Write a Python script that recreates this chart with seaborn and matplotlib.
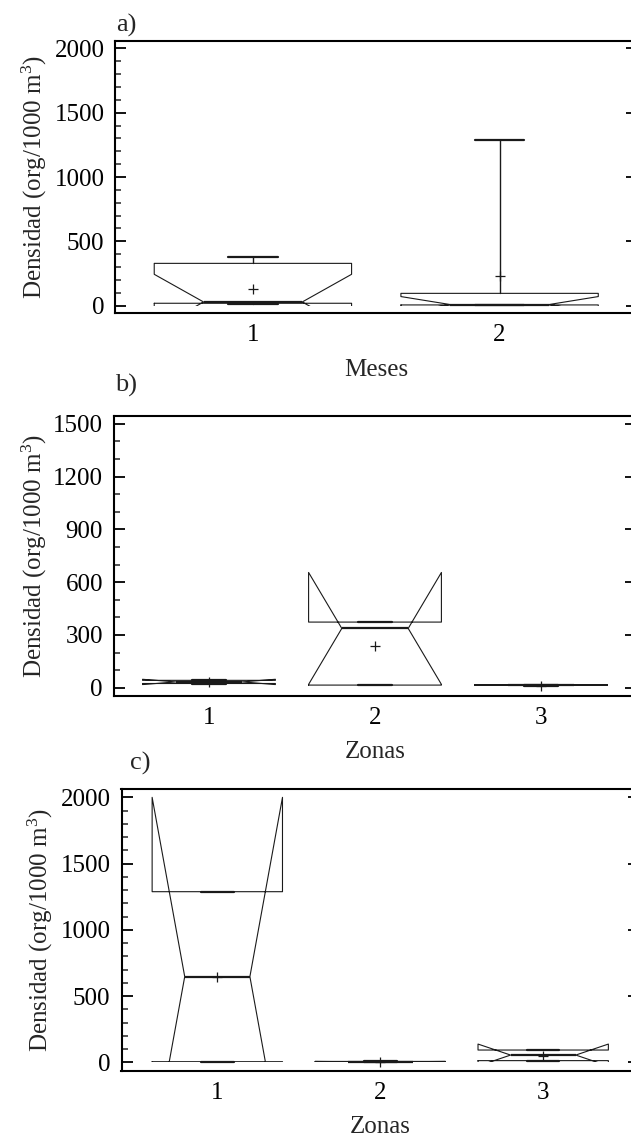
import matplotlib
matplotlib.use("Agg")
import matplotlib.pyplot as plt
import seaborn as sns
import numpy as np
from matplotlib.ticker import MultipleLocator, FixedLocator, FixedFormatter
from matplotlib.transforms import Bbox, TransformedBbox

# ---------------- data ----------------
meses = ["1", "2"]
zonas = ["1", "2", "3"]

# panel a) Meses
a_whislo = [15, 3]
a_q1 = [19, 6]
a_med = [29, 9]
a_q3 = [329, 96]
a_whishi = [376, 1290]
a_mean = [130, 233]
a_cilo = [-186, -53]
a_cihi = [244, 71]

# panel b) Zonas
b_whislo = [20, 15, 12]
b_q1 = [24, 15, 14]
b_med = [33, 337, 15]
b_q3 = [42, 373, 16]
b_whishi = [45, 375, 18]
b_mean = [30, 239, 12]
b_cilo = [18, 19, 13]
b_cihi = [48, 655, 17]

# panel c) Zonas
c_whislo = [5, 2, 13]
c_q1 = [5, 3, 13]
c_med = [647, 5, 55]
c_q3 = [1288, 7, 93]
c_whishi = [1288, 8, 93]
c_mean = [645, 4, 48]
c_cilo = [-706, 3, -28]
c_cihi = [2000, 7, 138]

a_yticks = [0, 500, 1000, 1500, 2000]
a_yticklabels = ["0", "500", "1000", "1500", "2000"]
b_yticks = [0, 300, 600, 900, 1200, 1500]
b_yticklabels = ["0", "300", "600", "900", "1200", "1500"]
c_yticks = [0, 500, 1000, 1500, 2000]
c_yticklabels = ["0", "500", "1000", "1500", "2000"]

ylabel = r"Densidad (org/1000 m$^{3}$)"

# ---------------- style ----------------
sns.set_theme(style="white")
plt.rcParams["font.family"] = ["Liberation Serif", "DejaVu Serif"]
plt.rcParams["mathtext.fontset"] = "custom"
plt.rcParams["mathtext.rm"] = "Liberation Serif"
plt.rcParams["mathtext.it"] = "Liberation Serif:italic"
plt.rcParams["mathtext.bf"] = "Liberation Serif:bold"

W, H = 631, 1139
fig = plt.figure(figsize=(W / 100, H / 100), dpi=100)
FS = 18
LC = "#1a1a1a"


def rect(l, t, r, b):
    return [l / W, 1 - b / H, (r - l) / W, (b - t) / H]


def make_stats(whislo, q1, med, q3, whishi, cilo, cihi, mean):
    out = []
    for i in range(len(med)):
        out.append(dict(whislo=whislo[i], q1=q1[i], med=med[i], q3=q3[i],
                        whishi=whishi[i], cilo=cilo[i], cihi=cihi[i],
                        mean=mean[i], fliers=[]))
    return out


panels = [
    dict(px=(115.5, 40.7, 637, 313.3), ylim=(-59, 2059), cats=meses, margin=0.557,
         stats=make_stats(a_whislo, a_q1, a_med, a_q3, a_whishi, a_cilo, a_cihi, a_mean),
         means=a_mean, yticks=a_yticks, ylabels=a_yticklabels, minor=100,
         xlabel="Meses", letter="a)", letter_px=(116, 32), xlab_base=376, ylab_px=49),
    dict(px=(114, 416, 636, 696), ylim=(-47, 1544), cats=zonas, margin=0.572,
         stats=make_stats(b_whislo, b_q1, b_med, b_q3, b_whishi, b_cilo, b_cihi, b_mean),
         means=b_mean, yticks=b_yticks, ylabels=b_yticklabels, minor=100,
         xlabel="Zonas", letter="b)", letter_px=(115, 392), xlab_base=758, ylab_px=49),
    dict(px=(121.5, 789, 639, 1070.7), ylim=(-63, 2063), cats=zonas, margin=0.588,
         stats=make_stats(c_whislo, c_q1, c_med, c_q3, c_whishi, c_cilo, c_cihi, c_mean),
         means=c_mean, yticks=c_yticks, ylabels=c_yticklabels, minor=100,
         xlabel="Zonas", letter="c)", letter_px=(130, 770), xlab_base=1133, ylab_px=55),
]

for p in panels:
    l, t, r, b = p["px"]
    ax = fig.add_axes(rect(l, t, r, b))
    n = len(p["cats"])
    pos = np.arange(n)
    ax.set_xlim(-p["margin"], n - 1 + p["margin"])
    ax.set_ylim(*p["ylim"])

    art = ax.bxp(p["stats"], positions=pos, widths=0.8, shownotches=True,
                 showmeans=False, showfliers=False, manage_ticks=False,
                 capwidths=0.2,
                 boxprops=dict(color=LC, linewidth=0.8),
                 medianprops=dict(color=LC, linewidth=1.6),
                 whiskerprops=dict(color=LC, linewidth=1.0),
                 capprops=dict(color=LC, linewidth=1.6))
    # notch outlines are cut at the zero line, as in the original software
    clip = TransformedBbox(Bbox([[-p["margin"], 0], [n - 1 + p["margin"], p["ylim"][1]]]),
                           ax.transData)
    for line in art["boxes"]:
        line.set_clip_box(clip)

    sns.scatterplot(x=pos, y=p["means"], marker="+", s=45, color=LC,
                    linewidth=0.9, ax=ax, zorder=5, legend=False)

    ax.set_xticks(pos)
    ax.set_xticklabels(p["cats"])
    ax.yaxis.set_major_locator(FixedLocator(p["yticks"]))
    ax.yaxis.set_major_formatter(FixedFormatter(p["ylabels"]))
    ax.yaxis.set_minor_locator(MultipleLocator(p["minor"]))

    ax.tick_params(axis="x", length=0, labelsize=FS, pad=8, colors="black")
    ax.tick_params(axis="y", which="major", direction="in", length=8, width=1.3,
                   left=True, right=True, labelsize=FS, pad=8, colors="black")
    ax.tick_params(axis="y", which="minor", direction="in", length=4.5, width=1.1,
                   left=True, right=False)
    for s in ax.spines.values():
        s.set_visible(True)
        s.set_color("black")
        s.set_linewidth(1.5)
    ax.grid(False)
    ax.set_facecolor("white")

    ax.set_ylabel(ylabel, fontsize=FS)
    ax.yaxis.set_label_coords((p["ylab_px"] - l) / (r - l), 0.5)
    ax.set_xlabel("")
    fig.text(((l + r) / 2) / W, 1 - p["xlab_base"] / H, p["xlabel"],
             ha="center", va="baseline", fontsize=FS)
    fig.text(p["letter_px"][0] / W, 1 - p["letter_px"][1] / H, p["letter"],
             ha="left", va="baseline", fontsize=FS + 1)

fig.savefig("out.png", dpi=100)
